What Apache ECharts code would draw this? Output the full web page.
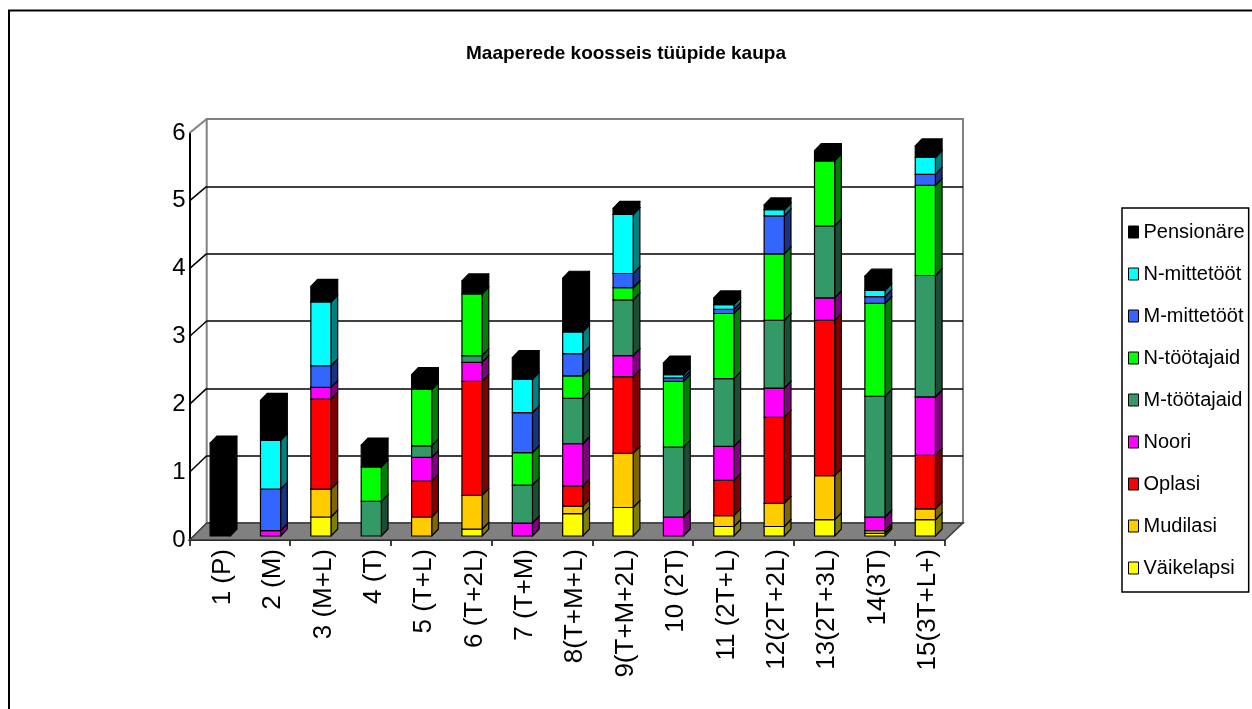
<!DOCTYPE html>
<html>
	<head>
		<meta charset="utf-8">
		<title>Maaperede koosseis tüüpide kaupa</title>
		<script src="https://cdn.jsdelivr.net/npm/echarts@6.0.0/dist/echarts.min.js"></script>
		<style>
			html, body { margin: 0; padding: 0; background: #fff; }
		</style>
	</head>
	<body>
		<div id="box" style="width: 1252px;height: 709px;"></div>
		<script>
			// andmed
			var categories = ['1 (P)', '2 (M)', '3 (M+L)', '4 (T)', '5 (T+L)', '6 (T+2L)', '7 (T+M)', '8(T+M+L)',
				'9(T+M+2L)', '10 (2T)', '11 (2T+L)', '12(2T+2L)', '13(2T+3L)', '14(3T)', '15(3T+L+)']
			var yTicks = [0, 1, 2, 3, 4, 5, 6]

			var vaikelapsi = [0, 0, 0.28, 0, 0, 0.10, 0, 0.33, 0.42, 0, 0.14, 0.14, 0.24, 0.04, 0.24]
			var mudilasi = [0, 0, 0.41, 0, 0.28, 0.50, 0, 0.11, 0.80, 0, 0.16, 0.34, 0.65, 0.04, 0.16]
			var oplasi = [0, 0, 1.33, 0, 0.53, 1.68, 0, 0.30, 1.13, 0, 0.52, 1.27, 2.29, 0, 0.79]
			var noori = [0, 0.08, 0.17, 0, 0.35, 0.28, 0.19, 0.62, 0.31, 0.28, 0.50, 0.43, 0.33, 0.20, 0.86]
			var mTootajaid = [0, 0, 0, 0.51, 0.17, 0.10, 0.56, 0.67, 0.82, 1.03, 1.00, 1.00, 1.06, 1.78, 1.79]
			var nTootajaid = [0, 0, 0, 0.51, 0.83, 0.91, 0.48, 0.33, 0.18, 0.97, 0.96, 0.98, 0.96, 1.37, 1.33]
			var mMittetoot = [0, 0.61, 0.32, 0, 0, 0, 0.59, 0.33, 0.21, 0.05, 0.06, 0.56, 0, 0.10, 0.16]
			var nMittetoot = [0, 0.72, 0.94, 0, 0, 0, 0.49, 0.32, 0.87, 0.05, 0.07, 0.09, 0, 0.09, 0.25]
			var pensionare = [1.37, 0.59, 0.23, 0.32, 0.22, 0.19, 0.32, 0.79, 0.09, 0.17, 0.10, 0.07, 0.15, 0.21, 0.17]

			var seriesList = [
				{ name: 'Väikelapsi', data: vaikelapsi, color: '#ffff00', side: '#808000' },
				{ name: 'Mudilasi', data: mudilasi, color: '#ffcc00', side: '#806600' },
				{ name: 'Oplasi', data: oplasi, color: '#ff0000', side: '#800000' },
				{ name: 'Noori', data: noori, color: '#ff00ff', side: '#800080' },
				{ name: 'M-töötajaid', data: mTootajaid, color: '#339966', side: '#1a4d33' },
				{ name: 'N-töötajaid', data: nTootajaid, color: '#00ff00', side: '#008000' },
				{ name: 'M-mittetööt', data: mMittetoot, color: '#3366ff', side: '#1a3380' },
				{ name: 'N-mittetööt', data: nMittetoot, color: '#00ffff', side: '#008080' },
				{ name: 'Pensionäre', data: pensionare, color: '#000000', side: '#000000' }
			]

			var SANS = "'Liberation Sans', Arial, sans-serif"

			// 3D imitatsioon: esisein, tagasein
			var W = 1252, H = 709
			var FRONT = { left: 189.5, top: 133, right: 307, bottom: 169 }
			var BACK = { left: 206.7, top: 119, right: 289, bottom: 186 }
			var BAR_SHIFT = [5.5, -4]
			var BAR_DEPTH = [6.7, -7]
			var BAR_RATIO = 0.4

			var mCharts = echarts.init(document.querySelector('#box'), null, { renderer: 'canvas' })

			function renderWall(params, api) {
				var cs = params.coordSys
				var fx0 = cs.x, fx1 = cs.x + cs.width, fy0 = cs.y + cs.height
				var bx0 = BACK.left, bx1 = W - BACK.right, by0 = H - BACK.bottom, byTop = BACK.top
				var kids = []
				kids.push({
					type: 'polygon',
					shape: { points: [[fx0, fy0], [bx0, by0], [bx1, by0], [fx1, fy0]] },
					style: { fill: '#808080', stroke: '#3a3a3a', lineWidth: 1.5 }
				})
				yTicks.forEach(function (v) {
					if (v === 0) return
					var fy = api.coord([0, v])[1]
					var by = by0 - (by0 - byTop) * v / 6
					kids.push({
						type: 'line',
						shape: { x1: fx0, y1: fy, x2: bx0, y2: by },
						style: { stroke: v === 6 ? '#808080' : '#000', lineWidth: v === 6 ? 2 : 1.5 }
					})
				})
				return { type: 'group', children: kids }
			}

			function makeBarRenderer(color, side) {
				return function (params, api) {
					var i = api.value(0), lo = api.value(1), hi = api.value(2)
					if (!(hi > lo)) return
					var p0 = api.coord([i, lo]), p1 = api.coord([i, hi])
					var bw = api.size([1, 0])[0] * BAR_RATIO
					var x0 = p0[0] + BAR_SHIFT[0] - bw / 2, x1 = x0 + bw
					var yb = p0[1] + BAR_SHIFT[1], yt = p1[1] + BAR_SHIFT[1]
					var dx = BAR_DEPTH[0], dy = BAR_DEPTH[1]
					var edge = { stroke: '#000', lineWidth: 1.2, lineJoin: 'round' }
					return {
						type: 'group',
						children: [
							{ type: 'polygon', shape: { points: [[x1, yb], [x1 + dx, yb + dy], [x1 + dx, yt + dy], [x1, yt]] },
								style: Object.assign({ fill: side }, edge) },
							{ type: 'polygon', shape: { points: [[x0, yt], [x0 + dx, yt + dy], [x1 + dx, yt + dy], [x1, yt]] },
								style: Object.assign({ fill: color }, edge) },
							{ type: 'rect', shape: { x: x0, y: yt, width: bw, height: yb - yt },
								style: Object.assign({ fill: color }, edge) }
						]
					}
				}
			}

			var stackBase = categories.map(function () { return 0 })
			var barSeries = seriesList.map(function (s) {
				var rows = s.data.map(function (v, i) {
					var lo = stackBase[i]
					stackBase[i] = lo + v
					return [i, lo, lo + v]
				})
				return {
					type: 'custom',
					name: s.name,
					xAxisIndex: 0,
					yAxisIndex: 0,
					z: 3,
					clip: false,
					itemStyle: { color: s.color },
					encode: { x: 0, y: [1, 2] },
					renderItem: makeBarRenderer(s.color, s.side),
					data: rows
				}
			})

			var option = {
				animation: false,
				backgroundColor: '#fff',
				title: {
					text: 'Maaperede koosseis tüüpide kaupa',
					left: 'center',
					top: 39,
					textStyle: { fontFamily: SANS, fontSize: 19, fontWeight: 'bold', color: '#000' }
				},
				legend: {
					orient: 'vertical',
					left: 1122,
					top: 208,
					data: seriesList.map(function (s) { return s.name }).reverse(),
					icon: 'rect',
					itemWidth: 10,
					itemHeight: 12,
					itemGap: 18,
					padding: [12, 4, 12, 6],
					backgroundColor: '#fff',
					borderColor: '#000',
					borderWidth: 1.5,
					itemStyle: { borderColor: '#000', borderWidth: 1 },
					textStyle: { fontFamily: SANS, fontSize: 20, lineHeight: 24, color: '#000' }
				},
				grid: [
					{ left: FRONT.left, top: FRONT.top, right: FRONT.right, bottom: FRONT.bottom },
					{ left: BACK.left, top: BACK.top, right: BACK.right, bottom: BACK.bottom,
						show: true, borderColor: '#808080', borderWidth: 2, backgroundColor: 'transparent' },
					{ left: FRONT.left + 8, top: FRONT.top, right: FRONT.right - 8, bottom: FRONT.bottom }
				],
				xAxis: [
					{ gridIndex: 0, type: 'category', data: categories,
						axisLine: { lineStyle: { color: '#000', width: 2 } },
						axisTick: { show: true, length: 6, lineStyle: { color: '#000', width: 1.5 } },
						axisLabel: { show: false } },
					{ gridIndex: 1, type: 'category', data: categories, show: false },
					{ gridIndex: 2, type: 'category', data: categories,
						axisLine: { show: false }, axisTick: { show: false },
						axisLabel: { interval: 0, rotate: 90, margin: 9, fontSize: 26, fontFamily: SANS, color: '#000' } }
				],
				yAxis: [
					{ gridIndex: 0, type: 'value', min: 0, max: 6, interval: 1,
						axisLine: { show: true, lineStyle: { color: '#000', width: 2 } },
						axisTick: { show: false },
						splitLine: { show: false },
						axisLabel: { margin: 4, fontSize: 24, fontFamily: SANS, color: '#000' } },
					{ gridIndex: 1, type: 'value', min: 0, max: 6, interval: 1,
						axisLine: { show: false }, axisTick: { show: false }, axisLabel: { show: false },
						splitLine: { show: true, lineStyle: { width: 1.5,
							color: ['#808080', '#000', '#000', '#000', '#000', '#000', '#808080'] } } },
					{ gridIndex: 2, type: 'value', min: 0, max: 6, show: false }
				],
				graphic: [
					{ type: 'polyline', shape: { points: [[9, 720], [9, 10.5], [1260, 10.5]] },
						style: { stroke: '#000', lineWidth: 2, fill: null }, silent: true }
				],
				series: [
					{ type: 'custom', name: 'wall', xAxisIndex: 0, yAxisIndex: 0, z: 1, clip: false,
						silent: true, renderItem: renderWall, data: [[0, 0]] }
				].concat(barSeries)
			}
			mCharts.setOption(option)
		</script>
	</body>
</html>
